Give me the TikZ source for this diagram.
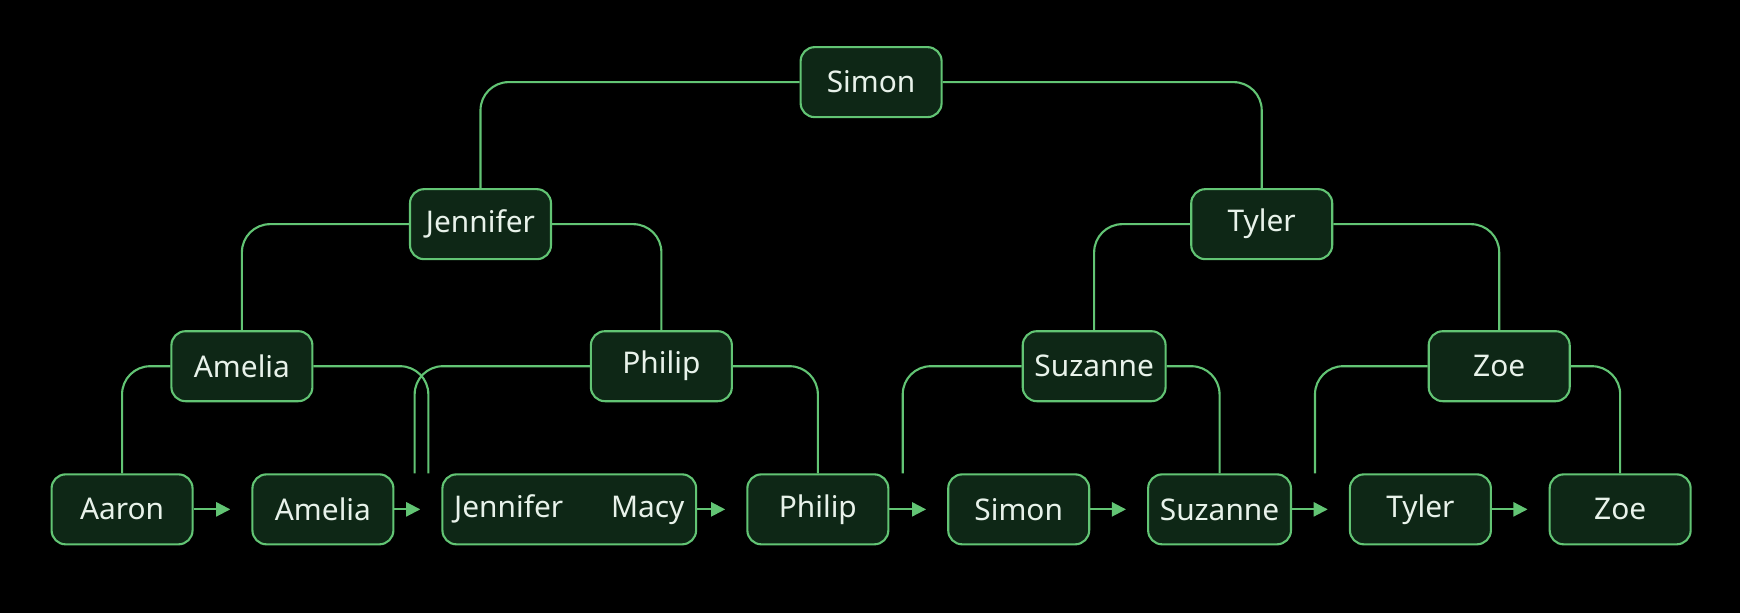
\documentclass[tikz,border=0pt]{standalone}
\usepackage{fontspec}
\setmainfont{Noto Sans}
\usetikzlibrary{arrows.meta, positioning, calc}
\definecolor{bg}{HTML}{000000}
\definecolor{boxfill}{HTML}{0E2716}
\definecolor{edge}{HTML}{62C474}
\definecolor{label}{HTML}{E8F2EA}

\begin{document}
\begin{tikzpicture}[
    x=0.111mm, y=-0.111mm,
    >={Triangle[length=4pt,width=4pt]},
    person/.style={draw=edge, fill=boxfill, text=label, rounded corners=4pt,
        minimum width=1.41cm, minimum height=0.70cm, line width=0.6pt,
        font=\fontsize{8.5}{10}\selectfont},
    link/.style={draw=edge, line width=0.6pt, rounded corners=8pt},
    next/.style={draw=edge, fill=edge, line width=0.6pt, ->}
]

\fill[bg] (0,0) rectangle (1568,552);

% tree
\node (Simon) at (785, 74) [person] {Simon};
\node (Jennifer) at (433, 202) [person] {Jennifer};
\node (Tyler) at (1137, 202) [person] {Tyler};
\node (Amelia) at (218, 330) [person] {Amelia};
\node (Philip) at (596, 330) [person] {Philip};
\node (Suzanne) at (986, 330) [person] {Suzanne};
\node (Zoe) at (1351, 330) [person] {Zoe};

% leaves
\node (L1) at (110, 459) [person] {Aaron};
\node (L2) at (291, 459) [person] {Amelia};
\node (L3) at (513, 459) [person, minimum width=2.33cm] {Jennifer\hspace{1.6em}Macy};
\node (L4) at (737, 459) [person] {Philip};
\node (L5) at (918, 459) [person] {Simon};
\node (L6) at (1099, 459) [person] {Suzanne};
\node (L7) at (1280, 459) [person] {Tyler};
\node (L8) at (1460, 459) [person] {Zoe};

\draw[link] (Simon.west) -| (Jennifer.north);
\draw[link] (Simon.east) -| (Tyler.north);
\draw[link] (Jennifer.west) -| (Amelia.north);
\draw[link] (Jennifer.east) -| (Philip.north);
\draw[link] (Tyler.west) -| (Suzanne.north);
\draw[link] (Tyler.east) -| (Zoe.north);
\draw[link] (Amelia.west) -| (L1.north);
\draw[link] (Amelia.east) -| ([xshift=30]L2.north);
\draw[link] (Philip.west) -| ([xshift=-44]L3.north);
\draw[link] (Philip.east) -| (L4.north);
\draw[link] (Suzanne.west) -| ([xshift=-33]L5.north);
\draw[link] (Suzanne.east) -| (L6.north);
\draw[link] (Zoe.west) -| ([xshift=-30]L7.north);
\draw[link] (Zoe.east) -| (L8.north);

\foreach \a/\b in {L1/L2, L2/L3, L3/L4, L4/L5, L5/L6, L6/L7, L7/L8}
    \draw[next] (\a.east) -- ([xshift=-6]\b.west);

\end{tikzpicture}
\end{document}
